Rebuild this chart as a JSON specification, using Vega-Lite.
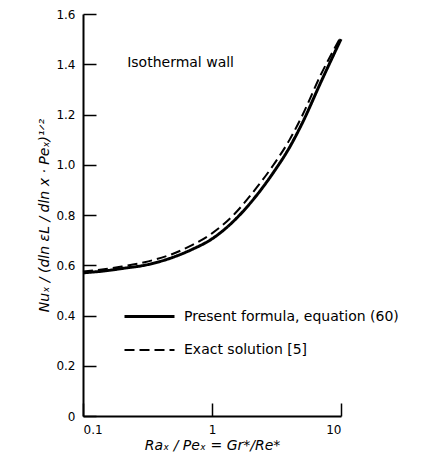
{
  "$schema": "https://vega.github.io/schema/vega-lite/v6.json",
  "width": 258,
  "height": 402,
  "autosize": {"type": "none"},
  "padding": {"left": 83, "top": 14, "right": 97, "bottom": 45},
  "background": "white",
  "config": {
    "view": {"stroke": null},
    "font": "DejaVu Sans",
    "axis": {
      "grid": false,
      "domainColor": "black",
      "domainWidth": 2,
      "tickColor": "black",
      "tickWidth": 1.5,
      "tickSize": -13,
      "labelColor": "black",
      "labelFontSize": 12,
      "labelFont": "DejaVu Sans",
      "titleColor": "black",
      "titleFont": "DejaVu Sans",
      "titleFontStyle": "italic",
      "titleFontWeight": "normal",
      "titleFontSize": 14
    }
  },
  "layer": [
    {
      "data": {
        "values": [
          {"ratio": 0.1, "nu": 0.57, "series": "Present formula, equation (60)"},
          {"ratio": 0.15, "nu": 0.578, "series": "Present formula, equation (60)"},
          {"ratio": 0.2, "nu": 0.587, "series": "Present formula, equation (60)"},
          {"ratio": 0.3, "nu": 0.6, "series": "Present formula, equation (60)"},
          {"ratio": 0.5, "nu": 0.632, "series": "Present formula, equation (60)"},
          {"ratio": 0.7, "nu": 0.663, "series": "Present formula, equation (60)"},
          {"ratio": 1, "nu": 0.705, "series": "Present formula, equation (60)"},
          {"ratio": 1.5, "nu": 0.78, "series": "Present formula, equation (60)"},
          {"ratio": 2, "nu": 0.85, "series": "Present formula, equation (60)"},
          {"ratio": 3, "nu": 0.97, "series": "Present formula, equation (60)"},
          {"ratio": 4, "nu": 1.07, "series": "Present formula, equation (60)"},
          {"ratio": 5, "nu": 1.165, "series": "Present formula, equation (60)"},
          {"ratio": 7, "nu": 1.33, "series": "Present formula, equation (60)"},
          {"ratio": 10, "nu": 1.5, "series": "Present formula, equation (60)"},
          {"ratio": 0.1, "nu": 0.575, "series": "Exact solution [5]"},
          {"ratio": 0.15, "nu": 0.585, "series": "Exact solution [5]"},
          {"ratio": 0.2, "nu": 0.595, "series": "Exact solution [5]"},
          {"ratio": 0.3, "nu": 0.612, "series": "Exact solution [5]"},
          {"ratio": 0.5, "nu": 0.646, "series": "Exact solution [5]"},
          {"ratio": 0.7, "nu": 0.68, "series": "Exact solution [5]"},
          {"ratio": 1, "nu": 0.727, "series": "Exact solution [5]"},
          {"ratio": 1.5, "nu": 0.805, "series": "Exact solution [5]"},
          {"ratio": 2, "nu": 0.88, "series": "Exact solution [5]"},
          {"ratio": 3, "nu": 1.0, "series": "Exact solution [5]"},
          {"ratio": 4, "nu": 1.1, "series": "Exact solution [5]"},
          {"ratio": 5, "nu": 1.195, "series": "Exact solution [5]"},
          {"ratio": 7, "nu": 1.36, "series": "Exact solution [5]"},
          {"ratio": 10, "nu": 1.51, "series": "Exact solution [5]"}
        ]
      },
      "mark": {"type": "line", "interpolate": "monotone", "color": "black"},
      "encoding": {
        "x": {
          "field": "ratio",
          "type": "quantitative",
          "scale": {"type": "log", "domain": [0.1, 10]},
          "axis": {
            "values": [0.1, 1, 10],
            "format": "~g",
            "labelPadding": 21,
            "title": "Raₓ / Peₓ = Gr*/Re*",
            "titlePadding": 3
          }
        },
        "y": {
          "field": "nu",
          "type": "quantitative",
          "scale": {"domain": [0, 1.6]},
          "axis": {
            "values": [0, 0.2, 0.4, 0.6, 0.8, 1.0, 1.2, 1.4, 1.6],
            "labelExpr": "datum.value == 0 ? '0' : format(datum.value, '.1f')",
            "labelPadding": 21,
            "title": "Nuₓ / (dln εL / dln x · Peₓ)¹ᐟ²",
            "titlePadding": 4
          }
        },
        "strokeDash": {
          "field": "series",
          "type": "nominal",
          "scale": {
            "domain": ["Present formula, equation (60)", "Exact solution [5]"],
            "range": [[1, 0], [10, 5]]
          },
          "legend": {
            "orient": "none",
            "legendX": 40,
            "legendY": 276,
            "title": null,
            "padding": 0,
            "symbolType": "stroke",
            "symbolSize": 2500,
            "symbolStrokeColor": "black",
            "labelFontSize": 14,
            "labelColor": "black",
            "labelFont": "DejaVu Sans",
            "labelLimit": 0,
            "rowPadding": -28,
            "labelOffset": 8
          }
        },
        "strokeWidth": {
          "field": "series",
          "type": "nominal",
          "scale": {
            "domain": ["Present formula, equation (60)", "Exact solution [5]"],
            "range": [3, 2]
          },
          "legend": {
            "orient": "none",
            "legendX": 40,
            "legendY": 276,
            "title": null,
            "padding": 0,
            "symbolType": "stroke",
            "symbolSize": 2500,
            "symbolStrokeColor": "black",
            "labelFontSize": 14,
            "labelColor": "black",
            "labelFont": "DejaVu Sans",
            "labelLimit": 0,
            "rowPadding": -28,
            "labelOffset": 8
          }
        }
      }
    },
    {
      "data": {"values": [{"ratio": 0.22, "nu": 1.39, "label": "Isothermal wall"}]},
      "mark": {"type": "text", "align": "left", "baseline": "alphabetic", "fontSize": 14, "font": "DejaVu Sans", "color": "black"},
      "encoding": {
        "x": {"field": "ratio", "type": "quantitative", "scale": {"type": "log", "domain": [0.1, 10]}},
        "y": {"field": "nu", "type": "quantitative", "scale": {"domain": [0, 1.6]}},
        "text": {"field": "label"}
      }
    }
  ]
}
